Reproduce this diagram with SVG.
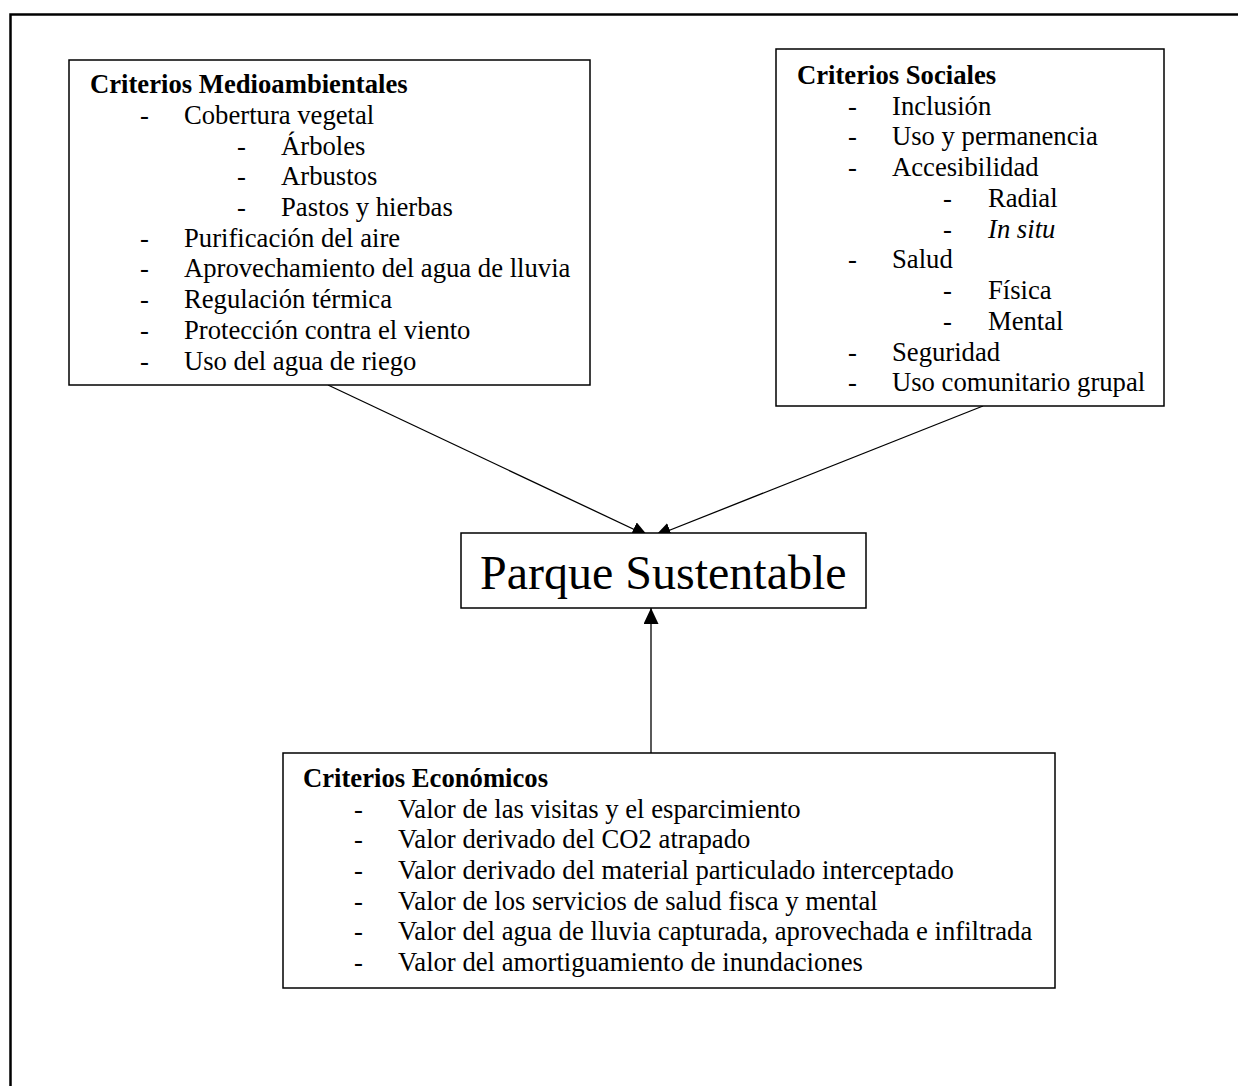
<svg xmlns="http://www.w3.org/2000/svg" width="1238" height="1086" viewBox="0 0 1238 1086">
<style>
.box{fill:#fff;stroke:#000;stroke-width:1.5}
.t{font-family:"Liberation Serif","Times New Roman",serif;font-size:26.67px;fill:#000}
.b{font-weight:bold}
.big{font-family:"Liberation Serif","Times New Roman",serif;font-size:48px;fill:#000}
.con{stroke:#000;stroke-width:1.3;fill:none}
</style>
<defs>
<marker id="ah" viewBox="0 0 16 15" refX="16" refY="7.5" markerWidth="16" markerHeight="15" markerUnits="userSpaceOnUse" orient="auto">
<path d="M0,0 L16,7.5 L0,15 Z" fill="#000"/>
</marker>
</defs>
<rect x="0" y="0" width="1238" height="1086" fill="#fff"/>
<rect id="frame" x="10.5" y="14.5" width="1240" height="1090" fill="none" stroke="#000" stroke-width="2.5"/>
<g id="connectors">
<line class="con" x1="328" y1="385" x2="648" y2="536" marker-end="url(#ah)"/>
<line class="con" x1="983" y1="406" x2="655" y2="536" marker-end="url(#ah)"/>
<line class="con" x1="651" y1="753" x2="651" y2="608" marker-end="url(#ah)"/>
</g>
<g id="medio">
<rect class="box" x="69" y="60" width="521" height="325"/>
<text class="t b" x="90" y="93">Criterios Medioambientales</text>
<text class="t" x="140" y="124">-</text><text class="t" x="184" y="124">Cobertura vegetal</text>
<text class="t" x="237" y="155">-</text><text class="t" x="281" y="155">Árboles</text>
<text class="t" x="237" y="185">-</text><text class="t" x="281" y="185">Arbustos</text>
<text class="t" x="237" y="216">-</text><text class="t" x="281" y="216">Pastos y hierbas</text>
<text class="t" x="140" y="247">-</text><text class="t" x="184" y="247">Purificación del aire</text>
<text class="t" x="140" y="277">-</text><text class="t" x="184" y="277">Aprovechamiento del agua de lluvia</text>
<text class="t" x="140" y="308">-</text><text class="t" x="184" y="308">Regulación térmica</text>
<text class="t" x="140" y="339">-</text><text class="t" x="184" y="339">Protección contra el viento</text>
<text class="t" x="140" y="370">-</text><text class="t" x="184" y="370">Uso del agua de riego</text>
</g>
<g id="sociales">
<rect class="box" x="776" y="49" width="388" height="357"/>
<text class="t b" x="797" y="84">Criterios Sociales</text>
<text class="t" x="848" y="115">-</text><text class="t" x="892" y="115">Inclusión</text>
<text class="t" x="848" y="145">-</text><text class="t" x="892" y="145">Uso y permanencia</text>
<text class="t" x="848" y="176">-</text><text class="t" x="892" y="176">Accesibilidad</text>
<text class="t" x="943" y="207">-</text><text class="t" x="988" y="207">Radial</text>
<text class="t" x="943" y="238">-</text><text class="t" x="988" y="238" font-style="italic">In situ</text>
<text class="t" x="848" y="268">-</text><text class="t" x="892" y="268">Salud</text>
<text class="t" x="943" y="299">-</text><text class="t" x="988" y="299">Física</text>
<text class="t" x="943" y="330">-</text><text class="t" x="988" y="330">Mental</text>
<text class="t" x="848" y="361">-</text><text class="t" x="892" y="361">Seguridad</text>
<text class="t" x="848" y="391">-</text><text class="t" x="892" y="391">Uso comunitario grupal</text>
</g>
<g id="parque">
<rect class="box" x="461" y="533" width="405" height="75"/>
<text class="big" x="480" y="589">Parque Sustentable</text>
</g>
<g id="economicos">
<rect class="box" x="283" y="753" width="772" height="235"/>
<text class="t b" x="303" y="787">Criterios Económicos</text>
<text class="t" x="354" y="818">-</text><text class="t" x="398" y="818">Valor de las visitas y el esparcimiento</text>
<text class="t" x="354" y="848">-</text><text class="t" x="398" y="848">Valor derivado del CO2 atrapado</text>
<text class="t" x="354" y="879">-</text><text class="t" x="398" y="879">Valor derivado del material particulado interceptado</text>
<text class="t" x="354" y="910">-</text><text class="t" x="398" y="910">Valor de los servicios de salud fisca y mental</text>
<text class="t" x="354" y="940">-</text><text class="t" x="398" y="940">Valor del agua de lluvia capturada, aprovechada e infiltrada</text>
<text class="t" x="354" y="971">-</text><text class="t" x="398" y="971">Valor del amortiguamiento de inundaciones</text>
</g>
</svg>
